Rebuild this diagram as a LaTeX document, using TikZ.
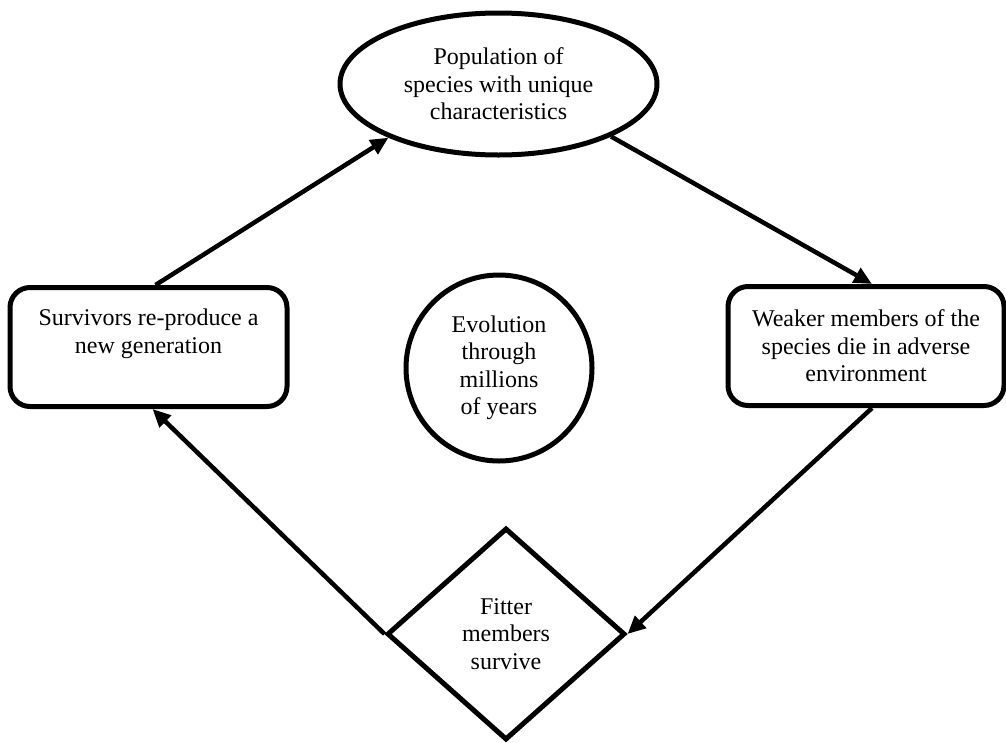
\documentclass[tikz,border=0pt]{standalone}
\usepackage{fontspec}
\setmainfont{Liberation Serif}
\usetikzlibrary{shapes.geometric,arrows.meta,calc}
\begin{document}
\begin{tikzpicture}[x=1pt,y=-1pt,
  every node/.style={font=\fontsize{24}{27.5}\selectfont, align=center, inner sep=0pt},
  outline/.style={draw, line width=5pt},
  roundbox/.style={outline, rectangle, rounded corners=20pt, minimum height=119pt},
  link/.style={line width=4.5pt, -{Triangle[length=18pt,width=16pt]}},
]
\useasboundingbox (0,0) rectangle (1006,742);

% stages of the cycle
\node[outline, ellipse, minimum width=317pt, minimum height=142pt] (pop) at (498.5,84)
  {Population of\\species with unique\\characteristics};

\node[roundbox, minimum width=276pt] (weak) at (866,346)
  {Weaker members of the\\species die in adverse\\environment};

\node[outline, diamond, minimum width=238pt, minimum height=212pt] (fit) at (506,634)
  {Fitter\\members\\survive};

\node[roundbox, minimum width=277pt] (surv) at (148.5,347) {};
\node (survtext) at (148.5,334) {Survivors re-produce a\\new generation};

% centre
\node[outline, circle, minimum size=186pt] (evo) at (499,368)
  {Evolution\\through\\millions\\of years};

% cycle arrows
\draw[link] ([xshift=7pt]surv.north) -- (pop.206);
\draw[link] (pop.335) -- ([xshift=6pt]weak.north);
\draw[link] ([xshift=6pt]weak.south) -- (fit.east);
\draw[link] (fit.west) -- ([xshift=4pt]surv.south);
\end{tikzpicture}
\end{document}
